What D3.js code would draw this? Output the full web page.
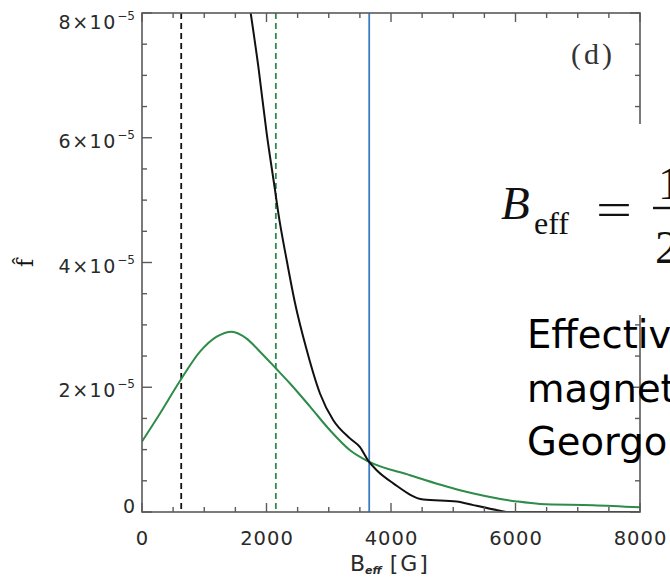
<!DOCTYPE html>
<html>
<head>
<meta charset="utf-8">
<script src="https://cdn.jsdelivr.net/npm/d3@7"></script>
<style>
  html, body { margin: 0; padding: 0; background: #fff; overflow: hidden; }
  svg { display: block; }
</style>
</head>
<body>
<svg id="chart" width="670" height="579"></svg>
<script>
// Distribution f̂ of the effective field strength B_eff (two samples)
const blackB = [1746, 1869, 2003, 2137, 2190, 2324, 2458, 2645, 2859, 3073, 3341, 3502, 3636, 3770, 4037, 4519, 5055, 5323, 5751, 5860, 6500, 7000, 7500, 8000];
const blackF = [8.00e-5, 7.14e-5, 6.07e-5, 5.16e-5, 4.79e-5, 4.04e-5, 3.35e-5, 2.60e-5, 1.90e-5, 1.47e-5, 1.18e-5, 1.04e-5, 0.82e-5, 0.67e-5, 0.46e-5, 0.20e-5, 0.17e-5, 0.11e-5, 0.02e-5, 0, 0, 0, 0, 0];

const greenB = [0, 289, 622, 932, 1200, 1441, 1681, 1896, 2153, 2378, 2699, 3020, 3341, 3636, 4305, 5108, 6019, 6394, 7245, 8000];
const greenF = [1.13e-5, 1.58e-5, 2.12e-5, 2.57e-5, 2.81e-5, 2.89e-5, 2.78e-5, 2.57e-5, 2.30e-5, 2.06e-5, 1.69e-5, 1.31e-5, 0.99e-5, 0.81e-5, 0.59e-5, 0.35e-5, 0.17e-5, 0.13e-5, 0.11e-5, 0.075e-5];

// Vertical reference lines (field values in G)
const markerB = [630, 2150, 3650];
const markerColor = ["#111111", "#2e8b4a", "#3b7dc4"];
const markerDash = ["6,4", "6,4", null];

// Axis ticks
const xTickLabels = ["0", "2000", "4000", "6000", "8000"];
const yTickMantissa = ["0", "2", "4", "6", "8"];
const yTickExponent = "−5";

(function draw() {
  const svg = d3.select("#chart");
  const W = 670;
  const pL = 142, pR = 640, pT = 13, pB = 512;

  const x = d3.scaleLinear().domain([0, 8000]).range([pL, pR]);
  const y = d3.scaleLinear().domain([0, 8e-5]).range([pB, pT]);

  const frameColor = "#5a5a5a";
  const labelColor = "#2a2a2a";
  const green = "#2e8b4a";

  svg.append("defs").append("clipPath").attr("id", "plotClip")
    .append("rect").attr("x", pL).attr("y", pT)
    .attr("width", pR - pL).attr("height", pB - pT);

  const plot = svg.append("g").attr("clip-path", "url(#plotClip)");

  // vertical markers
  markerB.forEach((b, i) => {
    plot.append("line")
      .attr("x1", x(b)).attr("x2", x(b))
      .attr("y1", pT).attr("y2", pB)
      .attr("stroke", markerColor[i])
      .attr("stroke-width", 1.8)
      .attr("stroke-dasharray", markerDash[i]);
  });

  const line = d3.line()
    .x(d => x(d[0])).y(d => y(d[1]))
    .curve(d3.curveMonotoneX);

  plot.append("path")
    .datum(greenB.map((b, i) => [b, greenF[i]]))
    .attr("fill", "none").attr("stroke", green).attr("stroke-width", 2)
    .attr("d", line);

  plot.append("path")
    .datum(blackB.map((b, i) => [b, blackF[i]]))
    .attr("fill", "none").attr("stroke", "#111").attr("stroke-width", 2)
    .attr("d", line);

  // frame
  const frame = svg.append("g");
  frame.append("rect")
    .attr("x", pL).attr("y", pT)
    .attr("width", pR - pL).attr("height", pB - pT)
    .attr("fill", "none").attr("stroke", frameColor).attr("stroke-width", 1.6);

  // ticks on all four sides, pointing inward
  const majorLen = 9, minorLen = 5;
  x.ticks(16).forEach(v => {
    const major = Math.round(v / 500) % 4 === 0;
    const len = major ? majorLen : minorLen;
    frame.append("line").attr("x1", x(v)).attr("x2", x(v))
      .attr("y1", pB).attr("y2", pB - len)
      .attr("stroke", frameColor).attr("stroke-width", 1.4);
    frame.append("line").attr("x1", x(v)).attr("x2", x(v))
      .attr("y1", pT).attr("y2", pT + len)
      .attr("stroke", frameColor).attr("stroke-width", 1.4);
  });
  y.ticks(16).forEach(v => {
    const major = Math.round(v / 0.5e-5) % 4 === 0;
    const len = major ? majorLen + 1 : minorLen;
    frame.append("line").attr("x1", pL).attr("x2", pL + len)
      .attr("y1", y(v)).attr("y2", y(v))
      .attr("stroke", frameColor).attr("stroke-width", 1.4);
    frame.append("line").attr("x1", pR).attr("x2", pR - len)
      .attr("y1", y(v)).attr("y2", y(v))
      .attr("stroke", frameColor).attr("stroke-width", 1.4);
  });

  // x tick labels
  x.ticks(4).forEach((v, i) => {
    svg.append("text")
      .attr("x", x(v) + 0.5).attr("y", 545)
      .attr("text-anchor", "middle")
      .attr("font-family", "DejaVu Sans, sans-serif")
      .attr("font-size", 19.5)
      .attr("letter-spacing", 1)
      .attr("fill", labelColor)
      .text(xTickLabels[i]);
  });

  // y tick labels
  y.ticks(4).forEach((v, i) => {
    const cy = Math.max(22, Math.min(506, y(v) + 3));
    const t = svg.append("text")
      .attr("x", 135).attr("y", cy + 7)
      .attr("text-anchor", "end")
      .attr("font-family", "DejaVu Sans, sans-serif")
      .attr("font-size", 19)
      .attr("fill", labelColor);
    if (yTickMantissa[i] === "0") {
      t.text("0");
    } else {
      t.append("tspan").attr("letter-spacing", 1.5).text(yTickMantissa[i] + "×10");
      t.append("tspan").attr("font-size", 12).attr("dy", -9).attr("dx", 0.5).text(yTickExponent);
    }
  });

  // axis titles
  const xt = svg.append("text")
    .attr("x", 350).attr("y", 571)
    .attr("font-family", "DejaVu Sans, sans-serif")
    .attr("font-size", 22)
    .attr("fill", labelColor);
  xt.append("tspan").text("B");
  xt.append("tspan").attr("font-size", 11).attr("font-style", "italic").attr("font-weight", "bold")
    .attr("dy", 3).text("eff");
  xt.append("tspan").attr("dy", -3).attr("dx", 8).attr("letter-spacing", 2).text("[G]");

  svg.append("text")
    .attr("transform", "translate(33,263) rotate(-90)")
    .attr("text-anchor", "middle")
    .attr("font-family", "DejaVu Serif, serif")
    .attr("font-size", 22)
    .attr("fill", "#111")
    .text("f̂");

  // panel letter
  svg.append("text")
    .attr("x", 571).attr("y", 64)
    .attr("font-family", "Liberation Serif, serif")
    .attr("font-size", 30)
    .attr("letter-spacing", 3)
    .attr("fill", "#333")
    .text("(d)");

  // overlaid note: formula and caption
  svg.append("rect")
    .attr("x", 490).attr("y", 124)
    .attr("width", W - 490).attr("height", 315 - 124)
    .attr("fill", "#fff");

  const eq = svg.append("g").attr("font-family", "Liberation Serif, serif").attr("fill", "#111");
  eq.append("text").attr("x", 501).attr("y", 219)
    .attr("font-size", 47).attr("font-style", "italic").text("B");
  eq.append("text").attr("x", 534).attr("y", 234)
    .attr("font-size", 32).text("eff");
  eq.append("text").attr("x", 596).attr("y", 225)
    .attr("font-size", 47).attr("textLength", 36).attr("lengthAdjust", "spacingAndGlyphs").text("=");
  eq.append("text").attr("x", 658).attr("y", 199)
    .attr("font-size", 47).text("1");
  eq.append("line").attr("x1", 653).attr("x2", W).attr("y1", 208).attr("y2", 208)
    .attr("stroke", "#111").attr("stroke-width", 2.4);
  eq.append("text").attr("x", 655).attr("y", 263)
    .attr("font-size", 47).text("2");

  const caption = ["Effective", "magnetic", "Georgoulis"];
  const capBase = [348, 402, 455];
  caption.forEach((s, i) => {
    svg.append("text")
      .attr("x", 527).attr("y", capBase[i])
      .attr("font-family", "DejaVu Sans, sans-serif")
      .attr("font-size", 38.5)
      .attr("fill", "#000")
      .text(s);
  });
})();
</script>
</body>
</html>
